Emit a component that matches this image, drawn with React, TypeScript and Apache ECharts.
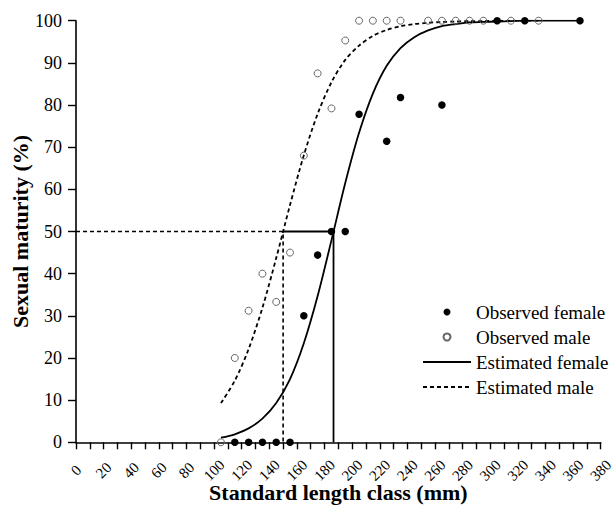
import React, { useEffect, useRef } from "react";
import * as echarts from "echarts";

const femaleX = [115, 125, 135, 145, 155, 165, 175, 185, 195, 205, 225, 235, 265, 305, 325, 365];
const femaleY = [0, 0, 0, 0, 0, 30, 44.4, 50, 50, 77.8, 71.4, 81.8, 80, 100, 100, 100];
const maleX = [105, 115, 125, 135, 145, 155, 165, 175, 185, 195, 205, 215, 225, 235, 255, 265, 275, 285, 295, 315, 335];
const maleY = [0, 20, 31.2, 40, 33.3, 45, 68, 87.5, 79.2, 95.3, 100, 100, 100, 100, 100, 100, 100, 100, 100, 100, 100];

const femaleCurveX = [105, 115, 125, 135, 145, 155, 165, 175, 185, 195, 205, 215, 225, 235, 245, 255, 265, 275, 285, 295, 305, 315, 325, 335, 345, 355, 365];
const femaleCurveY = [1.1, 1.9, 3.3, 5.6, 9.3, 15.0, 23.5, 34.7, 47.9, 61.5, 73.4, 82.7, 89.3, 93.5, 96.1, 97.7, 98.7, 99.2, 99.6, 99.7, 99.8, 99.9, 100, 100, 100, 100, 100];
const maleCurveX = [105, 115, 125, 135, 145, 155, 165, 175, 185, 195, 205, 215, 225, 235, 245, 255, 265, 275, 285, 295, 305, 315, 325, 335];
const maleCurveY = [9.3, 14.6, 22.1, 31.9, 43.7, 56.3, 68.1, 77.9, 85.4, 90.7, 94.1, 96.4, 97.8, 98.7, 99.2, 99.5, 99.7, 99.8, 99.9, 99.9, 100, 100, 100, 100];

const maleL50 = 150;
const femaleL50 = 186.5;
const halfLevel = 50;

const legendNames = ["Observed female", "Observed male", "Estimated female", "Estimated male"];
const FONT = "Liberation Serif";

const zip = (xs: number[], ys: number[]) => xs.map((x, i) => [x, ys[i]]);

export default function App() {
  const ref = useRef<HTMLDivElement>(null);
  useEffect(() => {
    if (!ref.current) return;
    const chart = echarts.init(ref.current, null, { renderer: "svg" });
    chart.setOption({
      animation: false,
      backgroundColor: "#ffffff",
      textStyle: { fontFamily: FONT },
      grid: {
        left: 76,
        right: 13.3,
        top: 20.7,
        bottom: 70.7,
        containLabel: false,
        outerBoundsMode: "none",
      },
      legend: {
        data: legendNames,
        orient: "vertical",
        left: 422,
        top: 302,
        padding: 0,
        itemWidth: 48,
        itemHeight: 7,
        itemGap: 5,
        textStyle: { fontFamily: FONT, fontSize: 19, color: "#000", lineHeight: 20 },
      },
      xAxis: {
        type: "value",
        min: 0,
        max: 380,
        interval: 20,
        name: "Standard length class (mm)",
        nameLocation: "middle",
        nameGap: 39,
        nameMoveOverlap: false,
        nameTextStyle: { fontFamily: FONT, fontSize: 22, fontWeight: "bold", color: "#000" },
        axisLine: { show: true, lineStyle: { color: "#000", width: 1.6 } },
        axisTick: { show: true, length: 7, lineStyle: { color: "#000", width: 1.4 } },
        minorTick: { show: true, splitNumber: 2, length: 7, lineStyle: { color: "#000", width: 1.4 } },
        splitLine: { show: false },
        axisLabel: {
          rotate: 45,
          align: "center",
          verticalAlign: "middle",
          margin: 28,
          fontFamily: FONT,
          fontSize: 15,
          color: "#000",
          showMinLabel: true,
          showMaxLabel: true,
        },
      },
      yAxis: {
        type: "value",
        min: 0,
        max: 100,
        interval: 10,
        name: "Sexual maturity (%)",
        nameLocation: "middle",
        nameGap: 45,
        nameMoveOverlap: false,
        nameTextStyle: { fontFamily: FONT, fontSize: 22, fontWeight: "bold", color: "#000" },
        axisLine: { show: true, lineStyle: { color: "#000", width: 1.6 } },
        axisTick: { show: true, length: 8, lineStyle: { color: "#000", width: 1.4 } },
        splitLine: { show: false },
        axisLabel: { margin: 14, fontFamily: FONT, fontSize: 18, color: "#000" },
      },
      series: [
        {
          name: "Estimated female",
          type: "line",
          data: zip(femaleCurveX, femaleCurveY),
          smooth: 0.3,
          symbol: "none",
          lineStyle: { color: "#000", width: 1.8, type: "solid" },
          itemStyle: { color: "rgba(0,0,0,0)", borderWidth: 0 },
          z: 2,
        },
        {
          name: "Estimated male",
          type: "line",
          data: zip(maleCurveX, maleCurveY),
          smooth: 0.3,
          symbol: "none",
          lineStyle: { color: "#000", width: 1.8, type: [4, 3] },
          itemStyle: { color: "rgba(0,0,0,0)", borderWidth: 0 },
          z: 2,
        },
        {
          name: "L50 male",
          type: "line",
          data: [
            [0, halfLevel],
            [maleL50, halfLevel],
            [maleL50, 0],
          ],
          symbol: "none",
          lineStyle: { color: "#000", width: 1.6, type: [4, 3] },
          z: 2,
        },
        {
          name: "L50 female",
          type: "line",
          data: [
            [maleL50, halfLevel],
            [femaleL50, halfLevel],
            [femaleL50, 0],
          ],
          symbol: "none",
          lineStyle: { color: "#000", width: 1.8, type: "solid" },
          z: 2,
        },
        {
          name: "Observed male",
          type: "scatter",
          data: zip(maleX, maleY),
          symbol: "circle",
          symbolSize: 7,
          itemStyle: { color: "rgba(255,255,255,0)", borderColor: "#666", borderWidth: 1, opacity: 1 },
          z: 3,
        },
        {
          name: "Observed female",
          type: "scatter",
          data: zip(femaleX, femaleY),
          symbol: "circle",
          symbolSize: 7.5,
          itemStyle: { color: "#000", opacity: 1 },
          z: 4,
        },
      ],
    });
    return () => chart.dispose();
  }, []);
  return (
    <div
      ref={ref}
      style={{ position: "absolute", left: 0, top: 0, width: 614, height: 513, background: "#fff" }}
    />
  );
}
